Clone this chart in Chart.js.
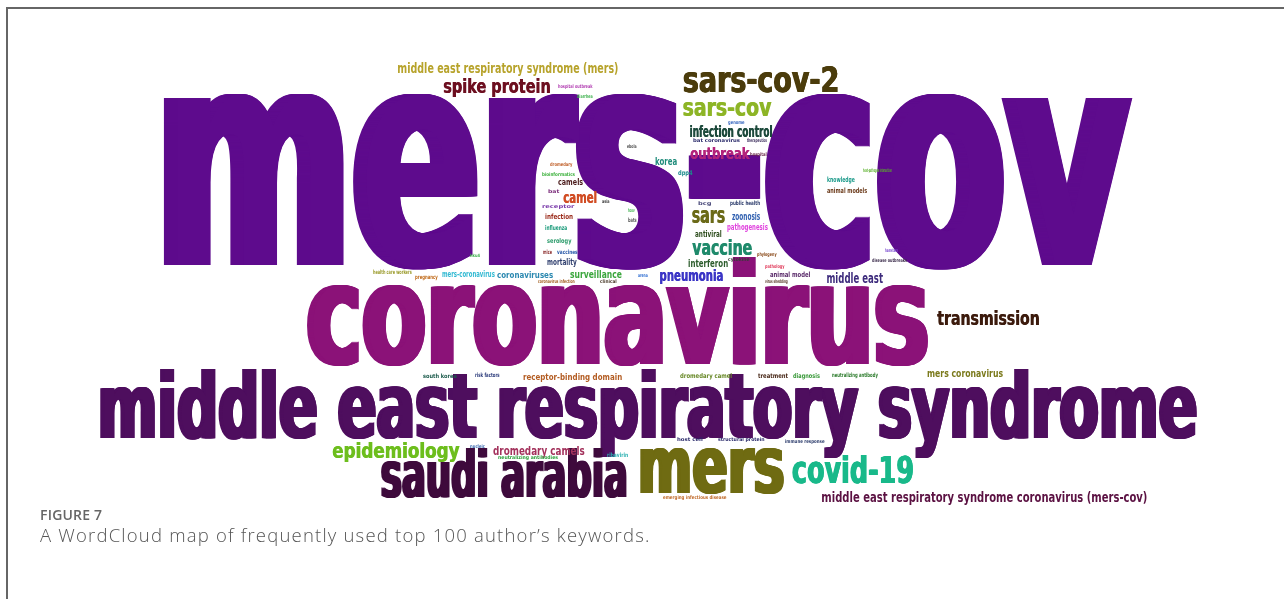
<!DOCTYPE html>
<html>
<head>
<meta charset="utf-8">
<script src="https://cdn.jsdelivr.net/npm/chart.js@4.4.1/dist/chart.umd.min.js"></script>
<style>
  html, body { margin: 0; padding: 0; background: #fff; }
  body { width: 1284px; height: 599px; overflow: hidden; position: relative; font-family: "Open Sans", "DejaVu Sans", sans-serif; }
  #frame { position: absolute; left: 6px; top: 7px; width: 1320px; height: 640px; border: 2px solid #666; box-sizing: border-box; }
  #cloud { position: absolute; left: 0; top: 0; width: 1284px; height: 510px; }
  .fig-label { position: absolute; left: 40px; top: 508px; font-size: 14px; line-height: 14px; font-weight: 600; color: #666; letter-spacing: 0.2px; }
  .fig-text { position: absolute; left: 40px; top: 526px; font-size: 18.5px; line-height: 18px; font-weight: 300; color: #555; letter-spacing: 1.2px; }
</style>
</head>
<body>
<div id="frame"></div>
<div id="cloud"><canvas id="wordcloud" width="1284" height="510"></canvas></div>
<div class="fig-label">FIGURE 7</div>
<div class="fig-text">A WordCloud map of frequently used top 100 author’s keywords.</div>

<script>
// Author keywords and their (estimated) frequency; word size follows frequency
const keywords = [
  'mers-cov', 'coronavirus', 'middle east respiratory syndrome', 'mers', 'saudi arabia',
  'covid-19', 'sars-cov-2', 'sars-cov', 'sars', 'vaccine',
  'epidemiology', 'transmission', 'spike protein', 'outbreak', 'pneumonia',
  'camel', 'infection control', 'middle east respiratory syndrome (mers)', 'middle east',
  'middle east respiratory syndrome coronavirus (mers-cov)',
  'dromedary camels', 'korea', 'zoonosis', 'mers coronavirus', 'surveillance',
  'interferon', 'receptor-binding domain', 'coronaviruses', 'camels', 'mortality',
  'mers-coronavirus', 'antiviral', 'pathogenesis', 'knowledge', 'animal models',
  'animal model', 'infection', 'influenza', 'serology', 'dpp4',
  'dromedary camel', 'treatment', 'diagnosis', 'neutralizing antibody', 'south korea',
  'risk factors', 'public health', 'vaccines', 'mice', 'health care workers',
  'pregnancy', 'therapeutics', 'bat coronavirus', 'genome', 'hospital',
  'dromedary', 'bioinformatics', 'receptor', 'bat', 'asia',
  'bats', 'hcov', 'bcg', 'hospital outbreak', 'diarrhea',
  'ebola', 'host-pathogen interaction', 'hamsters', 'disease outbreaks', 'phylogeny',
  'pathology', 'virus shedding', 'arena', 'clinical', 'coronavirus infection',
  'cytokine', 'ribavirin', 'neutralizing antibodies', 'nucleic', 'emerging infectious disease',
  'host cell', 'structural protein', 'immune response', 'hku4'
];

const frequency = [
  420, 193, 125, 110, 88,
  52, 50, 35, 32, 30,
  29, 26, 26, 22, 22,
  22, 21, 20, 20,
  20,
  18, 15, 15, 14, 14,
  14, 12, 12, 12, 12,
  11, 11, 11, 10, 10,
  10, 10, 9, 9, 9,
  9, 9, 9, 8, 8,
  8, 8, 8, 8, 8,
  8, 7, 7, 7, 7,
  7, 7, 7, 7, 7,
  8, 7, 7, 7, 7,
  7, 7, 7, 7, 7,
  7, 7, 7, 7, 7,
  7, 8, 7, 7, 7,
  7, 7, 7, 6
];

// Word cloud layout: [left, right, baseline] in cloud units (same order as keywords)
const placement = [
  [163, 1133, 265], [307, 928, 364], [100, 1197, 438], [640, 784, 493], [381, 627, 497],
  [792, 913, 483], [683, 838, 92], [683, 772, 116], [692, 725, 223], [692, 752, 255],
  [332, 460, 458], [937, 1039, 325], [443, 550, 93], [690, 750, 159], [660, 723, 281],
  [563, 597, 203], [690, 772, 137], [398, 618, 73], [827, 883, 283],
  [822, 1147, 502],
  [493, 585, 455], [655, 677, 165], [732, 760, 220], [927, 1003, 377], [570, 622, 278],
  [688, 728, 267], [523, 622, 380], [497, 553, 278], [558, 583, 185], [547, 577, 265],
  [442, 495, 277], [695, 722, 237], [727, 768, 230], [827, 855, 182], [827, 867, 193],
  [770, 810, 277], [545, 573, 219], [545, 567, 230], [547, 572, 243], [678, 693, 175],
  [680, 732, 378], [758, 788, 378], [793, 820, 378], [832, 878, 377], [423, 457, 378],
  [475, 500, 377], [730, 760, 205], [557, 578, 254], [543, 552, 254], [373, 412, 274],
  [415, 438, 279], [747, 767, 142], [693, 740, 142], [728, 745, 124], [750, 767, 156],
  [550, 573, 166], [542, 575, 176], [542, 575, 208], [548, 560, 193], [602, 610, 203],
  [628, 637, 222], [628, 635, 212], [698, 712, 205], [558, 593, 88], [577, 593, 98],
  [627, 637, 148], [863, 892, 172], [885, 898, 252], [872, 907, 262], [757, 777, 256],
  [765, 785, 268], [765, 788, 283], [638, 648, 277], [600, 617, 283], [538, 575, 283],
  [728, 750, 261], [607, 628, 457], [498, 558, 459], [470, 485, 448], [663, 727, 499],
  [677, 703, 441], [718, 765, 441], [785, 825, 443], [470, 480, 257]
];

const palette = [
  '#5e0b8d', '#8b1278', '#4e0e5e', '#6f6b12', '#3e0a3c',
  '#19b98a', '#4b3c0c', '#8db526', '#6b6a18', '#1f8a6b',
  '#6dbe1d', '#3c1b0d', '#6d0f20', '#b3237b', '#3b35c6',
  '#d14d24', '#1d4a3c', '#b7a32b', '#3d2b7c',
  '#5b1142',
  '#a3325c', '#1f8c7b', '#2f5fb0', '#7b7a1c', '#3ba63d',
  '#2b5b2b', '#b35c22', '#2b88b0', '#4b1b1b', '#2b3b6b',
  '#32b9d2', '#2c4c1c', '#e043de', '#1c9a8a', '#6b3a1a',
  '#5a2a6a', '#9b2b1b', '#1b9b7b', '#2b9b6b', '#1b8b8b',
  '#6a8a2a', '#4a2a1a', '#3a9a3a', '#2a7a2a', '#1a5a4a',
  '#2a3a7a', '#2a3a6a', '#2a5aaa', '#8a2a2a', '#9a9a2a',
  '#c06a1a', '#3a2a5a', '#2a2a6a', '#3a6ac0', '#6a2a4a',
  '#c0602a', '#3ab03a', '#7a3aaa', '#7a2a7a', '#3a3a3a',
  '#5a5a5a', '#3ab04a', '#4a4a7a', '#b03ab0', '#3ab04a',
  '#4a4a4a', '#5ab02a', '#7a4ad0', '#3a2a4a', '#8a4a1a',
  '#e03a5a', '#5a3a2a', '#2a6ad0', '#4a3a2a', '#a05a1a',
  '#3a3a3a', '#2ab0b0', '#2aa03a', '#3a6ab0', '#c06a2a',
  '#2a2a6a', '#2a2a6a', '#2a3a6a', '#3ab04a'
];

const SIZE_PER_FREQ = 0.4;   // x-height (cloud units) per occurrence
const WORD_FONT = '"DejaVu Sans", "Liberation Sans", sans-serif';

// Draws each keyword at its point, squeezed to the word's box
const wordLabels = {
  id: 'wordLabels',
  afterDatasetsDraw(chart) {
    const ctx = chart.ctx;
    const xScale = chart.scales.x;
    const yScale = chart.scales.y;
    const points = chart.data.datasets[0].data;
    const meta = chart.getDatasetMeta(0);

    ctx.save();
    ctx.font = 'bold 100px ' + WORD_FONT;
    const xRatio = ctx.measureText('x').actualBoundingBoxAscent / 100;

    meta.data.forEach(function(el, i) {
      const p = points[i];
      const left = el.x;
      const base = el.y;
      const right = xScale.getPixelForValue(p.right);
      const xh = Math.abs(yScale.getPixelForValue(p.freq * SIZE_PER_FREQ) - yScale.getPixelForValue(0));
      const size = xh / xRatio;

      // smear big words sideways so the squeezed stems stay as heavy as the original
      const smear = xh > 30 ? xh * 0.08 : (xh > 8 ? xh * 0.05 : 0);

      ctx.font = 'bold ' + size + 'px ' + WORD_FONT;
      ctx.fillStyle = p.color;
      ctx.textBaseline = 'alphabetic';
      const m = ctx.measureText(p.word);
      const visW = m.actualBoundingBoxLeft + m.actualBoundingBoxRight;
      const sx = (right - left - smear) / visW;

      for (let d = 0; d <= smear; d += 1) {
        ctx.save();
        ctx.translate(left + Math.min(d, smear), base);
        ctx.scale(sx, 1);
        ctx.fillText(p.word, m.actualBoundingBoxLeft, 0);
        ctx.restore();
      }
      if (smear > 0) {
        ctx.save();
        ctx.translate(left + smear, base);
        ctx.scale(sx, 1);
        ctx.fillText(p.word, m.actualBoundingBoxLeft, 0);
        ctx.restore();
      }
    });
    ctx.restore();
  }
};

const cloudData = keywords.map(function(word, i) {
  return {
    x: placement[i][0],
    y: placement[i][2],
    right: placement[i][1],
    freq: frequency[i],
    word: word,
    color: palette[i]
  };
});

new Chart(document.getElementById('wordcloud'), {
  type: 'scatter',
  data: {
    datasets: [{
      label: 'keywords',
      data: cloudData,
      pointRadius: 0,
      pointHoverRadius: 0
    }]
  },
  options: {
    responsive: false,
    animation: false,
    layout: { padding: 0 },
    plugins: {
      legend: { display: false },
      tooltip: { enabled: false }
    },
    scales: {
      x: { type: 'linear', min: 0, max: 1284, display: false },
      y: { type: 'linear', min: 0, max: 510, reverse: true, display: false }
    }
  },
  plugins: [wordLabels]
});
</script>
</body>
</html>
